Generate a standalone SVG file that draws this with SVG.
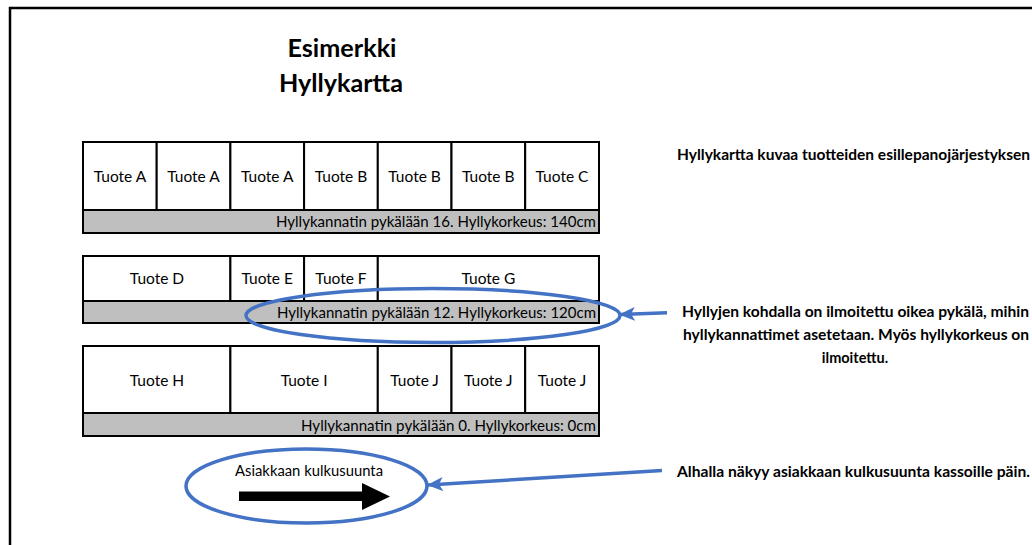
<svg xmlns="http://www.w3.org/2000/svg" width="1032" height="545" viewBox="0 0 1032 545">
<style>
text { font-family: Lato, "Liberation Sans", sans-serif; fill: #000; }
.cell { fill: #fff; stroke: #000; stroke-width: 2; }
.bar { fill: #bfbfbf; stroke: #000; stroke-width: 2; }
.ct { font-size: 15.5px; text-anchor: middle; }
.bt { font-size: 15px; text-anchor: end; }
.title { font-size: 25px; font-weight: bold; text-anchor: middle; }
.note { font-size: 14.5px; font-weight: bold; }
.ell { fill: none; stroke: #4472c4; stroke-width: 3.5; }
.conn { fill: none; stroke: #4472c4; stroke-width: 3.5; }
</style>
<defs>
<marker id="ah" markerUnits="userSpaceOnUse" markerWidth="16" markerHeight="14" viewBox="0 0 16 14" refX="15" refY="7" orient="auto">
<path d="M0,0 L16,7 L0,14 L4,7 z" fill="#4472c4"/>
</marker>
</defs>
<rect x="0" y="0" width="1032" height="545" fill="#fff"/>
<rect id="frame" x="10" y="8" width="1040" height="560" fill="none" stroke="#000" stroke-width="2.5"/>
<g id="title">
<text class="title" x="342" y="57" textLength="109" lengthAdjust="spacingAndGlyphs">Esimerkki</text>
<text class="title" x="341" y="92" textLength="124" lengthAdjust="spacingAndGlyphs">Hyllykartta</text>
</g>
<g id="shelf1">
<rect class="cell" x="83" y="142" width="73.7" height="68"/>
<rect class="cell" x="156.7" y="142" width="73.7" height="68"/>
<rect class="cell" x="230.4" y="142" width="73.7" height="68"/>
<rect class="cell" x="304.1" y="142" width="73.7" height="68"/>
<rect class="cell" x="377.8" y="142" width="73.7" height="68"/>
<rect class="cell" x="451.5" y="142" width="73.7" height="68"/>
<rect class="cell" x="525.2" y="142" width="73.8" height="68"/>
<rect class="bar" x="83" y="210" width="516" height="23"/>
<text class="ct" x="120" y="182">Tuote A</text>
<text class="ct" x="193.5" y="182">Tuote A</text>
<text class="ct" x="267.2" y="182">Tuote A</text>
<text class="ct" x="341" y="182">Tuote B</text>
<text class="ct" x="414.6" y="182">Tuote B</text>
<text class="ct" x="488.3" y="182">Tuote B</text>
<text class="ct" x="562" y="182">Tuote C</text>
<text class="bt" x="596" y="227" textLength="320" lengthAdjust="spacingAndGlyphs">Hyllykannatin pykälään 16. Hyllykorkeus: 140cm</text>
</g>
<g id="shelf2">
<rect class="cell" x="83" y="256" width="147.4" height="45"/>
<rect class="cell" x="230.4" y="256" width="73.7" height="45"/>
<rect class="cell" x="304.1" y="256" width="73.7" height="45"/>
<rect class="cell" x="377.8" y="256" width="221.2" height="45"/>
<rect class="bar" x="83" y="301" width="516" height="22"/>
<text class="ct" x="157" y="284">Tuote D</text>
<text class="ct" x="267.2" y="284">Tuote E</text>
<text class="ct" x="341" y="284">Tuote F</text>
<text class="ct" x="488.4" y="284">Tuote G</text>
<text class="bt" x="596" y="318" textLength="319" lengthAdjust="spacingAndGlyphs">Hyllykannatin pykälään 12. Hyllykorkeus: 120cm</text>
</g>
<g id="shelf3">
<rect class="cell" x="83" y="346" width="147.4" height="67"/>
<rect class="cell" x="230.4" y="346" width="147.4" height="67"/>
<rect class="cell" x="377.8" y="346" width="73.7" height="67"/>
<rect class="cell" x="451.5" y="346" width="73.7" height="67"/>
<rect class="cell" x="525.2" y="346" width="73.8" height="67"/>
<rect class="bar" x="83" y="413" width="516" height="23"/>
<text class="ct" x="157" y="386">Tuote H</text>
<text class="ct" x="304.1" y="386">Tuote I</text>
<text class="ct" x="414.6" y="386">Tuote J</text>
<text class="ct" x="488.3" y="386">Tuote J</text>
<text class="ct" x="562" y="386">Tuote J</text>
<text class="bt" x="596" y="431" textLength="295" lengthAdjust="spacingAndGlyphs">Hyllykannatin pykälään 0. Hyllykorkeus: 0cm</text>
</g>
<g id="highlight1">
<ellipse class="ell" cx="433" cy="315.5" rx="187" ry="27"/>
</g>
<g id="direction">
<ellipse class="ell" cx="306.5" cy="486" rx="120.5" ry="37"/>
<text x="309" y="476" font-size="15.5" text-anchor="middle" textLength="148" lengthAdjust="spacingAndGlyphs">Asiakkaan kulkusuunta</text>
<polygon points="239,491.5 362,491.5 362,483 390,496.5 362,510 362,501 239,501" fill="#000"/>
</g>
<g id="note1">
<text class="note" x="677" y="160" textLength="353" lengthAdjust="spacingAndGlyphs">Hyllykartta kuvaa tuotteiden esillepanojärjestyksen</text>
</g>
<g id="note2">
<text class="note" x="682" y="317" textLength="347" lengthAdjust="spacingAndGlyphs">Hyllyjen kohdalla on ilmoitettu oikea pykälä, mihin</text>
<text class="note" x="683" y="340" textLength="346" lengthAdjust="spacingAndGlyphs">hyllykannattimet asetetaan. Myös hyllykorkeus on</text>
<text class="note" x="855" y="363" text-anchor="middle">ilmoitettu.</text>
</g>
<g id="note3">
<text class="note" x="677" y="477" textLength="353" lengthAdjust="spacingAndGlyphs">Alhalla näkyy asiakkaan kulkusuunta kassoille päin.</text>
</g>
<g id="connectors">
<line class="conn" x1="667" y1="312.8" x2="620" y2="314.5" marker-end="url(#ah)"/>
<line class="conn" x1="662" y1="470.5" x2="428" y2="485" marker-end="url(#ah)"/>
</g>
</svg>
